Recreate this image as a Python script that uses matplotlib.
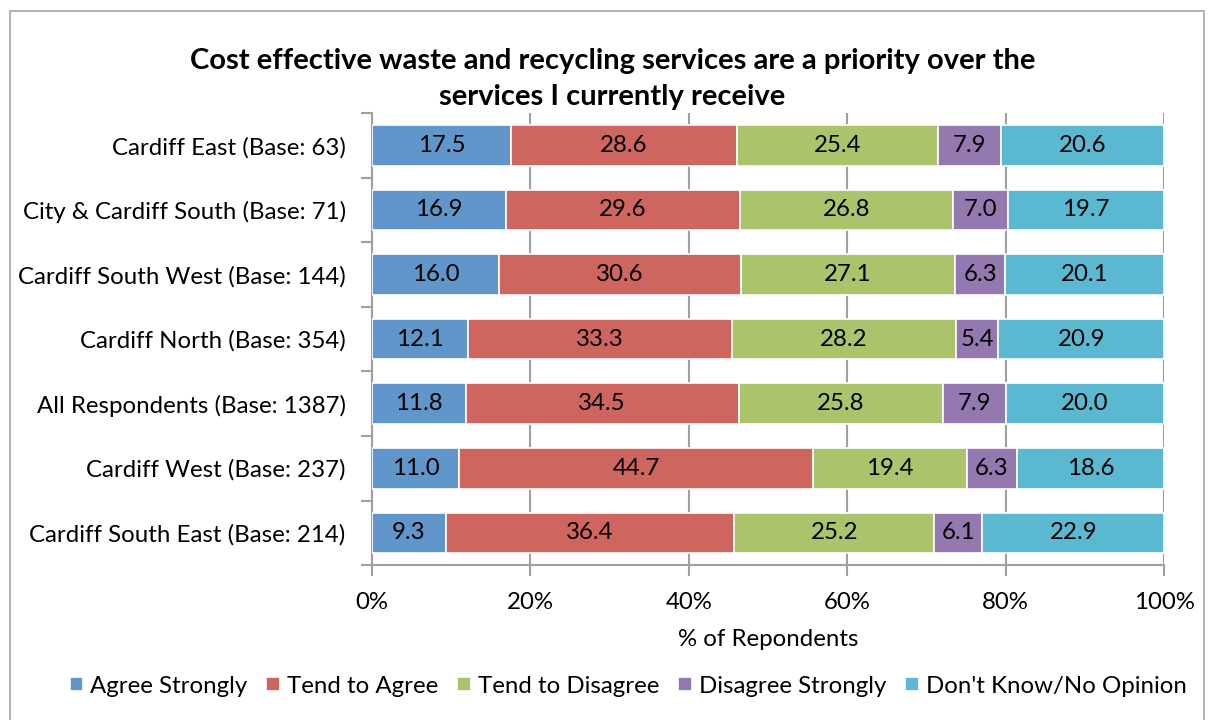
import matplotlib.pyplot as plt
import numpy as np
from matplotlib.patches import Rectangle

plt.rcParams['font.family'] = ['Lato', 'DejaVu Sans']

# Areas, top to bottom as in the chart
areas = [
    "Cardiff East (Base: 63)",
    "City & Cardiff South (Base: 71)",
    "Cardiff South West (Base: 144)",
    "Cardiff North (Base: 354)",
    "All Respondents (Base: 1387)",
    "Cardiff West (Base: 237)",
    "Cardiff South East (Base: 214)",
]

# Responses (%)
agree_strongly = [17.5, 16.9, 16.0, 12.1, 11.8, 11.0, 9.3]
tend_to_agree = [28.6, 29.6, 30.6, 33.3, 34.5, 44.7, 36.4]
tend_to_disagree = [25.4, 26.8, 27.1, 28.2, 25.8, 19.4, 25.2]
disagree_strongly = [7.9, 7.0, 6.3, 5.4, 7.9, 6.3, 6.1]
dont_know = [20.6, 19.7, 20.1, 20.9, 20.0, 18.6, 22.9]

series_names = ["Agree Strongly", "Tend to Agree", "Tend to Disagree",
                "Disagree Strongly", "Don't Know/No Opinion"]
colors = ["#6096CA", "#CF655F", "#ABC46C", "#9479B1", "#5BB8D1"]

values = np.array([agree_strongly, tend_to_agree, tend_to_disagree,
                   disagree_strongly, dont_know])
# 100% stacked, like Excel does
shares = values / values.sum(axis=0) * 100

FS = 17.3

fig = plt.figure(figsize=(12.08, 7.2), dpi=100)
ax = fig.add_axes([0.308, 0.215, 0.9636 - 0.308, 0.843 - 0.215])

# chart border
fig.patches.append(Rectangle((10 / 1208, -0.05), 1194 / 1208, 1.035,
                             transform=fig.transFigure, fill=False,
                             edgecolor="#A6A6A6", linewidth=1.2))

y = np.arange(len(areas))
left = np.zeros(len(areas))
for name, share, raw, col in zip(series_names, shares, values, colors):
    bars = ax.barh(y, share, left=left, height=0.63, color=col,
                   edgecolor="white", linewidth=1.2, label=name, zorder=3)
    ax.bar_label(bars, labels=[f"{v:.1f}" for v in raw], label_type="center",
                 fontsize=FS, color="black")
    left += share

ax.set_xlim(0, 100)
ax.set_ylim(len(areas) - 0.5, -0.5)
ax.set_xticks(np.arange(0, 101, 20))
ax.set_xticklabels([f"{t}%" for t in range(0, 101, 20)], fontsize=FS)
ax.set_yticks(y)
ax.set_yticklabels(areas, fontsize=FS)
ax.set_yticks(np.arange(-0.5, len(areas)), minor=True)
ax.tick_params(axis="y", which="major", length=0, pad=19)
ax.tick_params(axis="y", which="minor", length=8, color="#A0A0A0", width=1.5)
ax.tick_params(axis="x", length=8, color="#A0A0A0", width=1.5, pad=11)

ax.grid(axis="x", color="#A0A0A0", linewidth=1.5, zorder=0)
for s in ["top", "right"]:
    ax.spines[s].set_visible(False)
for s in ["left", "bottom"]:
    ax.spines[s].set_color("#A0A0A0")
    ax.spines[s].set_linewidth(1.5)

ax.set_xlabel("% of Repondents", fontsize=FS, labelpad=12)

fig.text(0.507, 0.89, "Cost effective waste and recycling services are a priority over the\nservices I currently receive",
         ha="center", va="center", fontsize=21, fontweight="bold", linespacing=1.5)

fig.legend(loc="center", bbox_to_anchor=(0.52, 0.047), ncol=5, frameon=False,
           fontsize=FS, handlelength=0.55, handleheight=0.55, handletextpad=0.3,
           columnspacing=0.8)

fig.savefig("out.png", dpi=100)
